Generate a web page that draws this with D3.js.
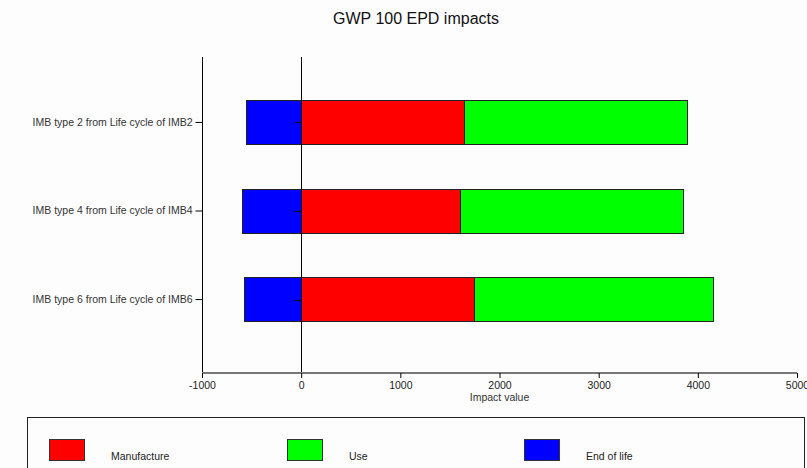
<!DOCTYPE html>
<html>
<head>
<meta charset="utf-8">
<script src="https://cdn.jsdelivr.net/npm/d3@7"></script>
<style>
  body { margin: 0; background: #fdfdfd; }
  svg { display: block; font-family: "Liberation Sans", Arial, sans-serif; }
</style>
</head>
<body>
<div id="chart"></div>
<script>
// GWP 100 EPD impacts - stacked horizontal bars

var categories = ["IMB type 2 from Life cycle of IMB2",
                  "IMB type 4 from Life cycle of IMB4",
                  "IMB type 6 from Life cycle of IMB6"];
var manufacture = [1646, 1606, 1744];
var use = [2242, 2242, 2412];
var endOfLife = [-561, -592, -572];
var xTicks = [-1000, 0, 1000, 2000, 3000, 4000, 5000];
var seriesNames = ["Manufacture", "Use", "End of life"];
var seriesColors = ["#ff0000", "#00ff00", "#0000ff"];

var w = 807, h = 468;

var svg = d3.select("#chart").append("svg")
    .attr("width", w)
    .attr("height", h);

svg.append("rect").attr("width", w).attr("height", h).attr("fill", "#fdfdfd");

var x = d3.scaleLinear().domain([-1000, 5000]).range([202, 797]);
var y = d3.scaleBand().domain(categories).range([56, 366])
    .paddingInner(0.5).paddingOuter(0.5);

var plotTop = 57, plotBottom = 373;

// title
svg.append("text")
    .attr("x", 416).attr("y", 24)
    .attr("text-anchor", "middle")
    .attr("font-size", "16px")
    .attr("fill", "#111")
    .text("GWP 100 EPD impacts");

// build stacked segments
var rows = categories.map(function(c, i) {
  return [
    {cat: c, x0: 0, x1: manufacture[i], color: seriesColors[0]},
    {cat: c, x0: manufacture[i], x1: manufacture[i] + use[i], color: seriesColors[1]},
    {cat: c, x0: endOfLife[i], x1: 0, color: seriesColors[2]}
  ];
});
var segs = [].concat.apply([], rows);

svg.selectAll("rect.seg")
    .data(segs)
    .enter()
    .append("rect")
    .attr("class", "seg")
    .attr("x", function(d) { return Math.round(x(d.x0)) + 0.5; })
    .attr("width", function(d) { return Math.round(x(d.x1)) - Math.round(x(d.x0)); })
    .attr("y", function(d) { return Math.round(y(d.cat)) + 0.5; })
    .attr("height", Math.round(y.bandwidth()))
    .attr("fill", function(d) { return d.color; })
    .attr("stroke", "#222")
    .attr("stroke-width", 1);

// zero line
svg.append("line")
    .attr("x1", Math.round(x(0)) + 0.5).attr("x2", Math.round(x(0)) + 0.5)
    .attr("y1", plotTop).attr("y2", plotBottom)
    .attr("stroke", "#000");

// small ticks on the zero line
svg.selectAll("line.ztick")
    .data(categories)
    .enter()
    .append("line")
    .attr("class", "ztick")
    .attr("x1", x(0) - 7).attr("x2", x(0))
    .attr("y1", function(d) { return Math.round(y(d) + y.bandwidth() / 2) + 0.5; })
    .attr("y2", function(d) { return Math.round(y(d) + y.bandwidth() / 2) + 0.5; })
    .attr("stroke", "#000");

// y axis
var yAxis = svg.append("g")
    .attr("transform", "translate(" + (Math.round(x(-1000)) + 0.5) + ",0)")
    .call(d3.axisLeft(y).tickSize(7).tickPadding(3));
yAxis.select(".domain").remove();
yAxis.append("line")
    .attr("x1", 0).attr("x2", 0)
    .attr("y1", plotTop).attr("y2", plotBottom)
    .attr("stroke", "#000");
yAxis.selectAll("text")
    .attr("font-size", "10.5px")
    .attr("font-family", "Liberation Sans, Arial, sans-serif")
    .attr("fill", "#333");

// x axis
var xAxis = svg.append("g")
    .attr("transform", "translate(0," + plotBottom + ")")
    .call(d3.axisBottom(x).tickValues(xTicks).tickSize(5).tickPadding(4)
      .tickFormat(function(d) { return String(d); }));
xAxis.select(".domain")
    .attr("stroke", "#777")
    .attr("stroke-width", 2)
    .attr("d", "M" + x(-1000) + ",0H" + x(5000));
xAxis.selectAll("text")
    .attr("font-size", "10.5px")
    .attr("font-family", "Liberation Sans, Arial, sans-serif")
    .attr("fill", "#222");

svg.append("text")
    .attr("x", (x(-1000) + x(5000)) / 2).attr("y", 401)
    .attr("text-anchor", "middle")
    .attr("font-size", "10.5px")
    .attr("fill", "#333")
    .text("Impact value");

// clipped y label
svg.append("clipPath").attr("id", "ylab")
    .append("rect").attr("x", 13).attr("y", 150).attr("width", 20).attr("height", 120);
svg.append("text")
    .attr("clip-path", "url(#ylab)")
    .attr("transform", "translate(17,212) rotate(-90)")
    .attr("text-anchor", "middle")
    .attr("font-size", "10px")
    .attr("fill", "#444")
    .text("Product");

// legend
svg.append("rect")
    .attr("x", 27.5).attr("y", 417.5)
    .attr("width", 777).attr("height", 80)
    .attr("fill", "#fdfdfd")
    .attr("stroke", "#222");

var legX = [49, 287, 524];
var leg = svg.selectAll("g.leg")
    .data(seriesNames)
    .enter()
    .append("g")
    .attr("class", "leg")
    .attr("transform", function(d, i) { return "translate(" + legX[i] + ",439)"; });
leg.append("rect")
    .attr("x", 0.5).attr("y", 0.5)
    .attr("width", 35).attr("height", 21)
    .attr("fill", function(d, i) { return seriesColors[i]; })
    .attr("stroke", "#333");
leg.append("text")
    .attr("x", 62).attr("y", 21)
    .attr("font-size", "10.5px")
    .attr("fill", "#222")
    .text(function(d) { return d; });
</script>
</body>
</html>
